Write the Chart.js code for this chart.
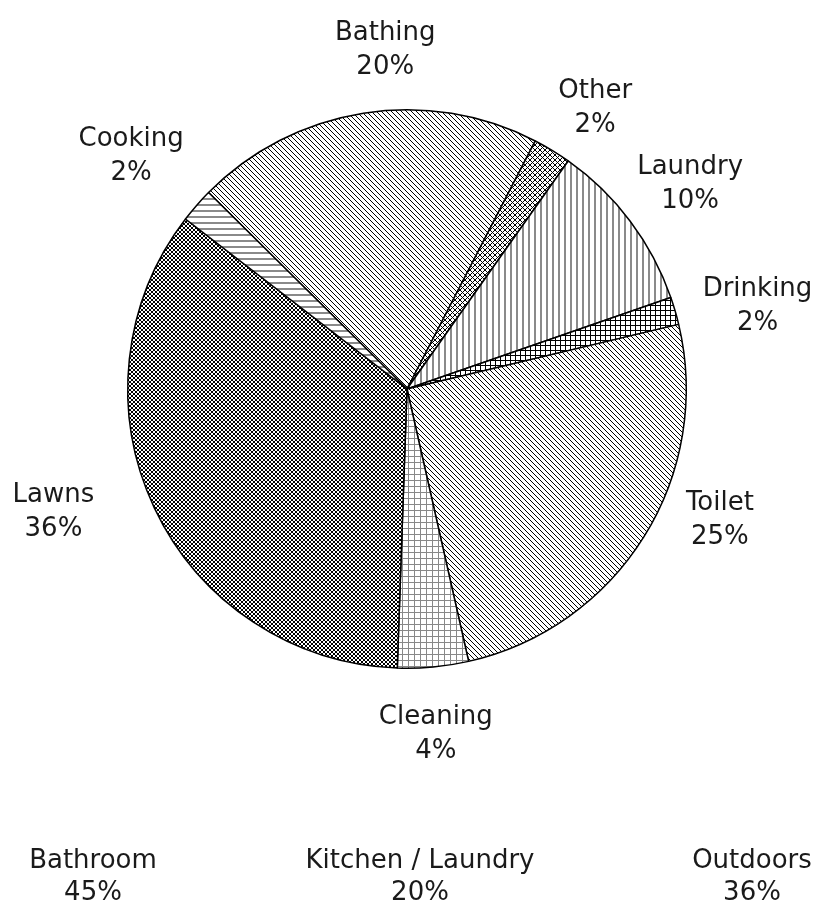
<!DOCTYPE html>
<html>
<head>
<meta charset="utf-8">
<script src="https://cdn.jsdelivr.net/npm/chart.js@4"></script>
<style>
  body { margin: 0; background: #fff; }
  canvas { display: block; }
</style>
</head>
<body>
<canvas id="graficoPizza" width="818" height="905"></canvas>
<script>
// Dados do gráfico
const categorias = ['Bathing', 'Other', 'Laundry', 'Drinking', 'Toilet', 'Cleaning', 'Lawns', 'Cooking'];
const valores = [20.2, 2.2, 9.9, 1.6, 25.2, 4.1, 34.9, 2.0];
const rotulosPct = ['20%', '2%', '10%', '2%', '25%', '4%', '36%', '2%'];
const grupos = ['Bathroom', 'Kitchen / Laundry', 'Outdoors'];
const gruposPct = ['45%', '20%', '36%'];

const fonte = '26px "DejaVu Sans"';

// Cria um padrão de hachura a partir de um ladrilho pequeno
function hachura(ctx, tam, desenhar) {
  const c = document.createElement('canvas');
  c.width = tam;
  c.height = tam;
  const g = c.getContext('2d');
  g.fillStyle = '#fff';
  g.fillRect(0, 0, tam, tam);
  desenhar(g, tam);
  return ctx.createPattern(c, 'repeat');
}

function diagonal(g, t) {
  g.fillStyle = '#000';
  for (let i = 0; i < t; i++) g.fillRect(i, i, 1, 1);
}
function xis(g, t) {
  g.fillStyle = '#000';
  for (let i = 0; i < t; i++) {
    g.fillRect(i, i, 1, 1);
    g.fillRect(t - 1 - i, i, 1, 1);
  }
}
function grade(cor, larg) {
  return function (g, t) {
    g.fillStyle = cor;
    g.fillRect(0, 0, t, larg);
    g.fillRect(0, 0, larg, t);
  };
}
function verticais(g, t) {
  g.fillStyle = '#8a8a8a';
  g.fillRect(0, 0, 2, t);
}
function horizontais(g, t) {
  g.fillStyle = '#8a8a8a';
  g.fillRect(0, 0, t, 2);
}

const canvas = document.getElementById('graficoPizza');
const ctx = canvas.getContext('2d');

const padroes = [
  hachura(ctx, 5, diagonal),          // Bathing
  hachura(ctx, 5, xis),               // Other
  hachura(ctx, 6, verticais),         // Laundry
  hachura(ctx, 5, grade('#000', 1)),  // Drinking
  hachura(ctx, 5, diagonal),          // Toilet
  hachura(ctx, 6, grade('#888', 1)),  // Cleaning
  hachura(ctx, 4, xis),               // Lawns
  hachura(ctx, 6, horizontais)        // Cooking
];

// Ajuste fino de posição dos rótulos (graus, distância além do raio)
const ajusteRotulos = [
  [5.3, 60], [2.5, 59], [1.1, 70], [2.9, 81],
  [-9.2, 60], [0.6, 67], [6.1, 95], [-0.9, 82]
];

const rotulosPlugin = {
  id: 'rotulos',
  afterDatasetsDraw(chart) {
    const c = chart.ctx;
    const meta = chart.getDatasetMeta(0);
    c.save();
    c.font = fonte;
    c.fillStyle = '#1a1a1a';
    c.textAlign = 'center';
    c.textBaseline = 'middle';
    meta.data.forEach((arco, i) => {
      const p = arco.getProps(['x', 'y', 'startAngle', 'endAngle', 'outerRadius'], true);
      const meio = (p.startAngle + p.endAngle) / 2 + ajusteRotulos[i][0] * Math.PI / 180;
      const d = p.outerRadius + ajusteRotulos[i][1];
      const x = p.x + Math.cos(meio) * d;
      const y = p.y + Math.sin(meio) * d;
      c.fillText(categorias[i], x, y - 17);
      c.fillText(rotulosPct[i], x, y + 17);
    });
    // Totais por grupo no rodapé
    const xs = [93, 420, 752];
    grupos.forEach((g, i) => {
      c.fillText(g, xs[i], 861);
      c.fillText(gruposPct[i], xs[i], 893);
    });
    c.restore();
  }
};

new Chart(ctx, {
  type: 'pie',
  data: {
    labels: categorias,
    datasets: [{
      data: valores,
      backgroundColor: padroes,
      borderColor: '#000',
      borderWidth: 1.5,
      hoverOffset: 0
    }]
  },
  options: {
    responsive: false,
    animation: false,
    rotation: -45.3,
    layout: { padding: { left: 127, right: 131, top: 109, bottom: 236 } },
    plugins: {
      legend: { display: false },
      tooltip: { enabled: false }
    }
  },
  plugins: [rotulosPlugin]
});
</script>
</body>
</html>
